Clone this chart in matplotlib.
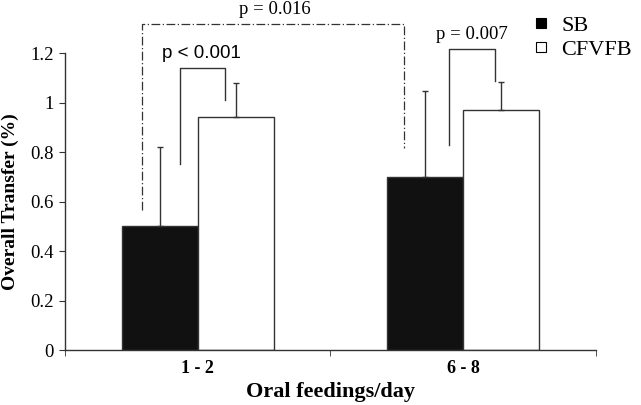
import matplotlib.pyplot as plt
import numpy as np
from matplotlib.lines import Line2D

categories = ['1 - 2', '6 - 8']
sb = [0.50, 0.70]
sb_err = [0.32, 0.345]
cfvfb = [0.94, 0.97]
cfvfb_err = [0.138, 0.112]

# within-group comparisons: top, left foot, right foot, label
pair_top = [1.14, 1.215]
pair_left = [0.75, 0.83]
pair_right = [1.01, 1.087]
pair_text = ['p < 0.001', 'p = 0.007']
# between-group comparison
cross_top = 1.317
cross_left = 0.566
cross_right = 0.816
cross_text = 'p = 0.016'

serif = ['Liberation Serif', 'DejaVu Serif']
sans = ['Liberation Sans', 'DejaVu Sans']
plt.rcParams['font.family'] = serif

fig = plt.figure(figsize=(6.41, 4.05), dpi=100)
ax = fig.add_axes([0.1014, 0.1358, 0.8284, 0.7332])

x = np.arange(len(categories)) + 0.5
w = 0.286
edge = '#333333'

ax.bar(x - w / 2, sb, w, color='#111111', edgecolor=edge, linewidth=1, label='SB')
ax.bar(x + w / 2, cfvfb, w, color='white', edgecolor=edge, linewidth=1, label='CFVFB')
ax.errorbar(x - w / 2, sb, yerr=[np.zeros(2), sb_err], fmt='none',
            ecolor=edge, elinewidth=1, capsize=2.5, capthick=1)
ax.errorbar(x + w / 2, cfvfb, yerr=[np.zeros(2), cfvfb_err], fmt='none',
            ecolor=edge, elinewidth=1, capsize=2.5, capthick=1)

# brackets
offs_l = [0.076, 0.089]
offs_r = [-0.04, -0.023]
for i in range(2):
    xl = x[i] - w / 2 + offs_l[i]
    xr = x[i] + w / 2 + offs_r[i]
    ax.plot([xl, xl, xr, xr], [pair_left[i], pair_top[i], pair_top[i], pair_right[i]],
            color=edge, lw=1, clip_on=False)
ax.text((x[0] - w / 2 + offs_l[0] + x[0] + w / 2 + offs_r[0]) / 2 - 0.005, pair_top[0] + 0.025,
        pair_text[0], ha='center', va='bottom', fontsize=13.5, family=sans)
ax.text((x[1] - w / 2 + offs_l[1] + x[1] + w / 2 + offs_r[1]) / 2, pair_top[1] + 0.025,
        pair_text[1], ha='center', va='bottom', fontsize=13.5, family=serif)

cl = x[0] - w / 2 - 0.067
cr = x[1] - w / 2 - 0.08
ax.plot([cl, cl, cr, cr], [cross_left, cross_top, cross_top, cross_right],
        color=edge, lw=0.9, ls='-.', dashes=(7, 2, 1, 2), clip_on=False)
ax.text((cl + cr) / 2 + 0.005, cross_top + 0.025, cross_text, ha='center', va='bottom',
        fontsize=13.5, family=serif)

ax.set_xlim(0, 2)
ax.set_ylim(0, 1.2)
ax.set_yticks(np.arange(0, 1.21, 0.2))
ax.set_yticklabels(['0', '0.2', '0.4', '0.6', '0.8', '1', '1.2'], fontsize=13.5)
ax.set_xticks(x)
ax.set_xticklabels(categories, fontsize=13, fontweight='bold')
ax.set_xticks([0, 1, 2], minor=True)
ax.tick_params(axis='x', which='major', length=0, pad=7)
ax.tick_params(axis='x', which='minor', length=4, color=edge, direction='out')
ax.tick_params(axis='y', length=4, color=edge, direction='out', pad=4)

for s in ['top', 'right']:
    ax.spines[s].set_visible(False)
for s in ['left', 'bottom']:
    ax.spines[s].set_color(edge)
    ax.spines[s].set_linewidth(1)

ax.set_xlabel('Oral feedings/day', fontsize=16, fontweight='bold', labelpad=4)
ax.set_ylabel('Overall Transfer (%)', fontsize=14, fontweight='bold', labelpad=8)

handles = [Line2D([], [], ls='none', marker='s', markersize=6.5,
                  markerfacecolor='black', markeredgecolor='black', markeredgewidth=0.8),
           Line2D([], [], ls='none', marker='s', markersize=6.5,
                  markerfacecolor='white', markeredgecolor='black', markeredgewidth=0.8)]
fig.legend(handles, ['SB', 'CFVFB'], loc='upper left', bbox_to_anchor=(0.81, 1.0),
           frameon=False, fontsize=16, handlelength=0.6,
           handletextpad=0.6, labelspacing=0.15, borderaxespad=0.3)

fig.savefig('out.png', dpi=100)
